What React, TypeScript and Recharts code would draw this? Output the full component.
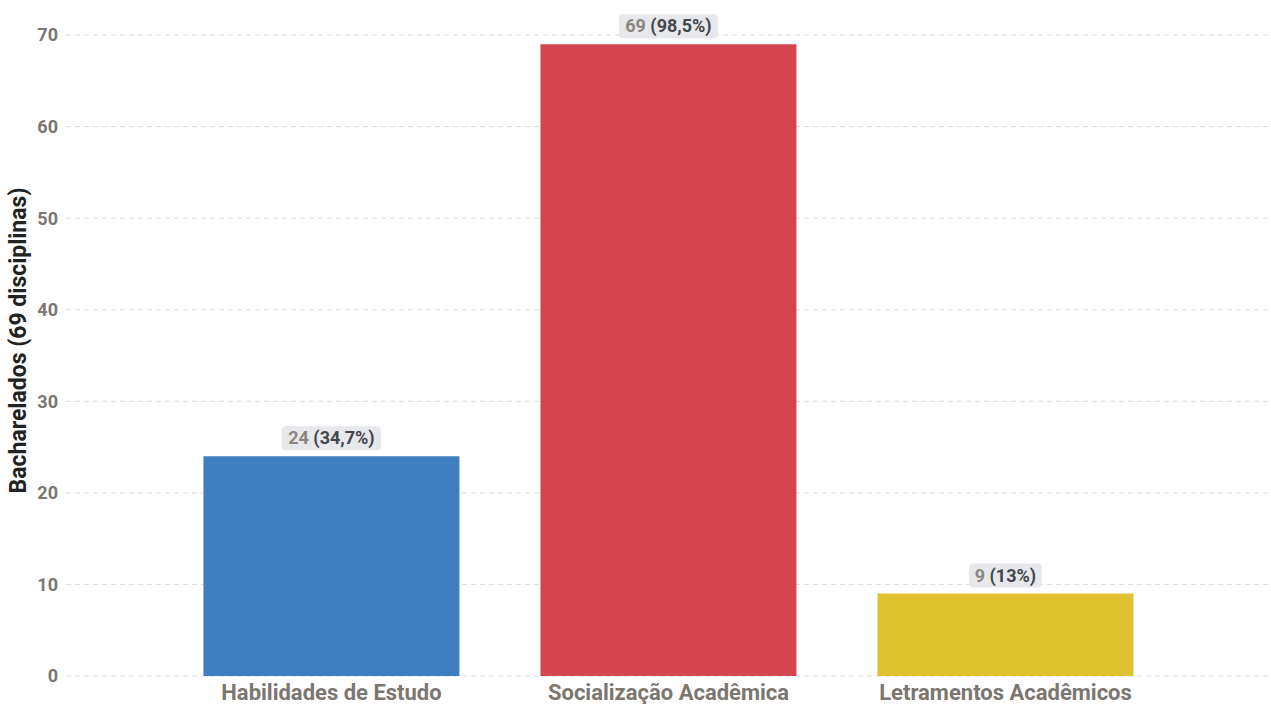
import React from "react";
import {
  BarChart,
  Bar,
  XAxis,
  YAxis,
  CartesianGrid,
  Cell,
  LabelList,
} from "recharts";

const categories = [
  "Habilidades de Estudo",
  "Socialização Acadêmica",
  "Letramentos Acadêmicos",
];
const counts = [24, 69, 9];
const percents = ["34,7%", "98,5%", "13%"];
const colors = ["#3f7fc1", "#d5454f", "#e0c230"];
const yTicks = [0, 10, 20, 30, 40, 50, 60, 70];

const data = categories.map((name, i) => ({
  name,
  value: counts[i],
  pct: percents[i],
}));

const FONT = "Roboto, 'Noto Sans', sans-serif";

const ValueLabel = (props: any) => {
  const { x, y, width, index } = props;
  const d = data[index];
  const cx = x + width / 2;
  const text = `${d.value} (${d.pct})`;
  const w = text.length * 8.8 + 11;
  const h = 24;
  const bottom = y - 6;
  return (
    <g>
      <rect
        x={cx - w / 2}
        y={bottom - h}
        width={w}
        height={h}
        rx={4}
        fill="#e6e8eb"
      />
      <text
        x={cx}
        y={bottom - 6}
        textAnchor="middle"
        fontFamily={FONT}
        fontSize={18}
        fontWeight={700}
      >
        <tspan fill="#8a8580">{d.value}</tspan>
        <tspan fill="#45464a"> ({d.pct})</tspan>
      </text>
    </g>
  );
};

const AxisTitle = (props: any) => {
  const { viewBox } = props;
  const cx = 18;
  const cy = viewBox.y + viewBox.height / 2 - 15;
  return (
    <text
      x={cx}
      y={cy}
      transform={`rotate(-90 ${cx} ${cy})`}
      textAnchor="middle"
      dominantBaseline="central"
      fontFamily={FONT}
      fontSize={23}
      fontWeight={700}
      fill="#222"
    >
      Bacharelados (69 disciplinas)
    </text>
  );
};

export default function App() {
  return (
    <div style={{ width: 1271, height: 704, background: "#fff" }}>
      <style>{"body{margin:0}"}</style>
      <BarChart
        width={1271}
        height={704}
        data={data}
        margin={{ top: 35, right: 0, left: 0, bottom: 0 }}
        barCategoryGap="12%"
      >
        <CartesianGrid
          vertical={false}
          strokeDasharray="5 4"
          stroke="#dcdcdc"
        />
        <XAxis
          dataKey="name"
          axisLine={false}
          tickLine={false}
          height={28}
          padding={{ left: 97, right: 97 }}
          tick={{
            fill: "#7b766f",
            fontSize: 22,
            fontWeight: 700,
            fontFamily: FONT,
          }}
          dy={0}
        />
        <YAxis
          domain={[0, 70]}
          ticks={yTicks}
          width={66}
          axisLine={false}
          tickLine={false}
          tick={{
            fill: "#7b766f",
            fontSize: 18,
            fontWeight: 700,
            fontFamily: FONT,
          }}
          label={<AxisTitle />}
        />
        <Bar dataKey="value" isAnimationActive={false}>
          {data.map((d, i) => (
            <Cell key={d.name} fill={colors[i]} />
          ))}
          <LabelList dataKey="value" content={<ValueLabel />} />
        </Bar>
      </BarChart>
    </div>
  );
}
